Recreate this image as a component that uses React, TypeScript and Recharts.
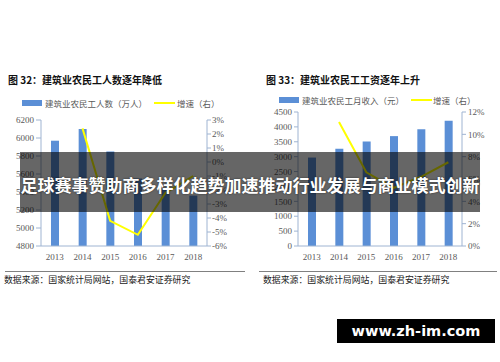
import React from 'react';
import { ComposedChart, Bar, Line, XAxis, YAxis } from 'recharts';

const years = ['2013', '2014', '2015', '2016', '2017', '2018'];
const workers = [5970, 6100, 5850, 5550, 5430, 5360];
const workersGrowth: (number | null)[] = [null, 2.4, -4.2, -5.2, -2.2, -1.0];
const income = [2970, 3270, 3510, 3690, 3920, 4210];
const incomeGrowth: (number | null)[] = [null, 11.1, 6.6, 5.2, 6.2, 7.5];

const leftTicks = [4800, 5000, 5200, 5400, 5600, 5800, 6000, 6200];
const leftPctTicks = [-6, -5, -4, -3, -2, -1, 0, 1, 2, 3];
const rightTicks = [0, 500, 1000, 1500, 2000, 2500, 3000, 3500, 4000, 4500];
const rightPctTicks = [0, 2, 4, 6, 8, 10, 12];

const leftData = years.map((y, i) => ({ year: y, value: workers[i], growth: workersGrowth[i] }));
const rightData = years.map((y, i) => ({ year: y, value: income[i], growth: incomeGrowth[i] }));

const BLUE = '#5b8fd6';
const YELLOW = '#ffff00';
const AXIS = '#9fb4d2';
const TICK = { fontSize: 9, fill: '#595959', fontFamily: "'Liberation Serif', 'Times New Roman', serif" };
const CJK = "'Noto Sans CJK SC', sans-serif";

function LegendRow({ x, y, label1, label2, lineX, text2X }: any) {
  return (
    <>
      <div style={{ position: 'absolute', left: x, top: y - 3, width: 20, height: 6, background: BLUE }} />
      <div style={{ position: 'absolute', left: x + 23, top: y - 7, fontSize: 8.5, lineHeight: '14px', color: '#595959', fontFamily: CJK, whiteSpace: 'nowrap' }}>{label1}</div>
      <div style={{ position: 'absolute', left: lineX, top: y - 1, width: 21, height: 2, background: YELLOW }} />
      <div style={{ position: 'absolute', left: text2X, top: y - 7, fontSize: 8.5, lineHeight: '14px', color: '#595959', fontFamily: CJK, whiteSpace: 'nowrap' }}>{label2}</div>
    </>
  );
}

export default function App() {
  return (
    <div style={{ position: 'fixed', left: 0, top: 0, width: 500, height: 362, background: '#fff', overflow: 'hidden' }}>
      {/* titles */}
      <div style={{ position: 'absolute', left: 8, top: 72, fontSize: 10, fontWeight: 700, lineHeight: '16px', fontFamily: CJK, color: '#111', whiteSpace: 'nowrap' }}>图 32：建筑业农民工人数逐年降低</div>
      <div style={{ position: 'absolute', left: 266, top: 72, fontSize: 10, fontWeight: 700, lineHeight: '16px', fontFamily: CJK, color: '#111', whiteSpace: 'nowrap' }}>图 33：建筑业农民工工资逐年上升</div>

      <LegendRow x={22} y={103} label1="建筑业农民工人数（万人）" label2="增速（右）" lineX={154} text2X={177} />
      <LegendRow x={279} y={100} label1="建筑业农民工月收入（元）" label2="增速（右）" lineX={411} text2X={433} />

      <div style={{ position: 'absolute', left: 0, top: 0 }}>
        <ComposedChart width={250} height={270} data={leftData} margin={{ top: 120, right: 0, bottom: 0, left: 0 }}>
          <XAxis dataKey="year" height={24} tick={TICK} tickLine={false} axisLine={{ stroke: AXIS }} interval={0} />
          <YAxis yAxisId="left" width={41} domain={[4800, 6200]} ticks={leftTicks} interval={0} tick={TICK} tickSize={5} tickMargin={2} axisLine={{ stroke: AXIS }} tickLine={{ stroke: AXIS }} allowDataOverflow />
          <YAxis yAxisId="right" orientation="right" width={43} domain={[-6, 3]} ticks={leftPctTicks} interval={0} tick={TICK} tickSize={4} tickMargin={1} tickFormatter={(v: number) => `${v}%`} axisLine={{ stroke: AXIS }} tickLine={{ stroke: AXIS }} allowDataOverflow />
          <Bar yAxisId="left" dataKey="value" fill={BLUE} barSize={8} isAnimationActive={false} />
          <Line yAxisId="right" dataKey="growth" stroke={YELLOW} strokeWidth={2} dot={false} isAnimationActive={false} type="linear" />
        </ComposedChart>
      </div>

      <div style={{ position: 'absolute', left: 250, top: 0 }}>
        <ComposedChart width={250} height={270} data={rightData} margin={{ top: 112, right: 0, bottom: 0, left: 0 }}>
          <XAxis dataKey="year" height={24} tick={TICK} tickLine={false} axisLine={{ stroke: AXIS }} interval={0} />
          <YAxis yAxisId="left" width={48} domain={[0, 4500]} ticks={rightTicks} interval={0} tick={TICK} tickSize={4} tickMargin={2} axisLine={{ stroke: AXIS }} tickLine={{ stroke: AXIS }} />
          <YAxis yAxisId="right" orientation="right" width={38} domain={[0, 12]} ticks={rightPctTicks} interval={0} tick={TICK} tickSize={4} tickMargin={2} tickFormatter={(v: number) => `${v}%`} axisLine={{ stroke: AXIS }} tickLine={{ stroke: AXIS }} />
          <Bar yAxisId="left" dataKey="value" fill={BLUE} barSize={8} isAnimationActive={false} />
          <Line yAxisId="right" dataKey="growth" stroke={YELLOW} strokeWidth={2} dot={false} isAnimationActive={false} type="linear" />
        </ComposedChart>
      </div>

      {/* footers */}
      <div style={{ position: 'absolute', left: 5, top: 271, width: 240, height: 1, background: '#808080' }} />
      <div style={{ position: 'absolute', left: 259, top: 271, width: 238, height: 1, background: '#808080' }} />
      <div style={{ position: 'absolute', left: 4, top: 273, fontSize: 8.9, lineHeight: '13px', fontFamily: CJK, color: '#222', whiteSpace: 'nowrap' }}>数据来源：国家统计局网站，国泰君安证券研究</div>
      <div style={{ position: 'absolute', left: 263, top: 273, fontSize: 8.9, lineHeight: '13px', fontFamily: CJK, color: '#222', whiteSpace: 'nowrap' }}>数据来源：国家统计局网站，国泰君安证券研究</div>

      {/* overlay banner */}
      <div style={{ position: 'absolute', left: 20, top: 152, width: 460, height: 60, background: 'rgba(0,0,0,0.6)' }} />
      <div style={{ position: 'absolute', left: 20, top: 171, width: 460, textAlign: 'center', fontSize: 17, lineHeight: '28px', fontWeight: 700, fontFamily: CJK, color: '#fff', whiteSpace: 'nowrap', textShadow: '0 0 2px rgba(0,0,0,0.6)' }}>足球赛事赞助商多样化趋势加速推动行业发展与商业模式创新</div>

      {/* watermark */}
      <div style={{ position: 'absolute', left: 337, top: 319, width: 158, height: 24, background: '#000' }} />
      <div style={{ position: 'absolute', left: 337, top: 319, width: 158, height: 24, lineHeight: '24px', textAlign: 'center', fontSize: 14.5, fontWeight: 700, fontFamily: "'DejaVu Sans', sans-serif", color: '#fff', whiteSpace: 'nowrap' }}>www.zh-im.com</div>
    </div>
  );
}
